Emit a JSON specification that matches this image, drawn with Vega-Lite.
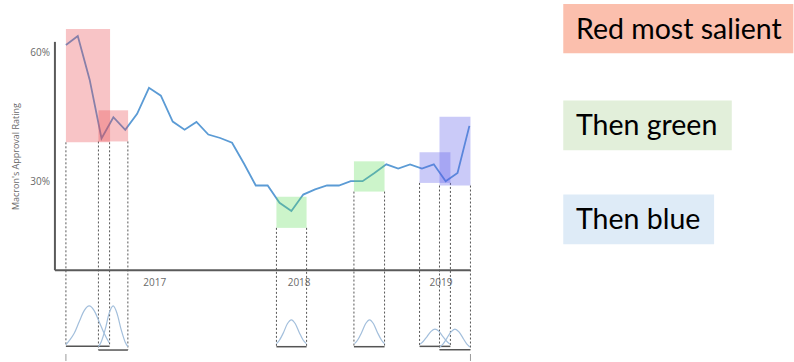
{
  "$schema": "https://vega.github.io/schema/vega-lite/v6.json",
  "width": 794,
  "height": 362,
  "autosize": {"type": "fit", "contains": "padding"},
  "padding": 0,
  "background": "white",
  "view": {"stroke": null},
  "datasets": {
    "rating": [
      {"t": 0, "v": 61.8}, {"t": 1, "v": 63.9}, {"t": 2, "v": 53.8}, {"t": 3, "v": 40.2},
      {"t": 4, "v": 45.1}, {"t": 5, "v": 42.2}, {"t": 6, "v": 45.9}, {"t": 7, "v": 51.9},
      {"t": 8, "v": 50.1}, {"t": 9, "v": 44.1}, {"t": 10, "v": 42.2}, {"t": 11, "v": 44.0},
      {"t": 12, "v": 41.1}, {"t": 13, "v": 40.3}, {"t": 14, "v": 39.2}, {"t": 15, "v": 34.4},
      {"t": 16, "v": 29.3}, {"t": 17, "v": 29.3}, {"t": 18, "v": 25.3}, {"t": 19, "v": 23.4},
      {"t": 20, "v": 27.2}, {"t": 21, "v": 28.4}, {"t": 22, "v": 29.3}, {"t": 23, "v": 29.3},
      {"t": 24, "v": 30.3}, {"t": 25, "v": 30.3}, {"t": 26, "v": 32.2}, {"t": 27, "v": 34.2},
      {"t": 28, "v": 33.2}, {"t": 29, "v": 34.2}, {"t": 30, "v": 33.2}, {"t": 31, "v": 34.2},
      {"t": 32, "v": 30.3}, {"t": 33, "v": 32.2}, {"t": 34, "v": 43.1}
    ],
    "boxes": [
      {"c": "red", "x1": 0, "x2": 3.72, "y1": 39.3, "y2": 65.5},
      {"c": "red", "x1": 2.74, "x2": 5.24, "y1": 39.5, "y2": 46.7},
      {"c": "green", "x1": 17.74, "x2": 20.28, "y1": 19.5, "y2": 26.7},
      {"c": "green", "x1": 24.27, "x2": 26.85, "y1": 27.9, "y2": 34.9},
      {"c": "blue", "x1": 29.8, "x2": 32.4, "y1": 29.9, "y2": 37.0},
      {"c": "blue", "x1": 31.48, "x2": 34.09, "y1": 29.3, "y2": 45.2}
    ],
    "drops": [
      {"x": 0, "y1": 39.3, "y2": -7.92}, {"x": 3.68, "y1": 39.3, "y2": -7.92},
      {"x": 2.74, "y1": 39.5, "y2": -8.77}, {"x": 5.22, "y1": 39.5, "y2": -8.77},
      {"x": 17.74, "y1": 19.5, "y2": -8.0}, {"x": 20.28, "y1": 19.5, "y2": -8.0},
      {"x": 24.27, "y1": 27.9, "y2": -8.0}, {"x": 26.85, "y1": 27.9, "y2": -8.0},
      {"x": 29.8, "y1": 29.9, "y2": -7.92}, {"x": 32.4, "y1": 29.9, "y2": -7.92},
      {"x": 31.48, "y1": 29.3, "y2": -8.7}, {"x": 34.09, "y1": 29.3, "y2": -8.7}
    ],
    "bases": [
      {"x1": 0, "x2": 3.68, "y": -7.92},
      {"x1": 2.74, "x2": 5.22, "y": -8.77},
      {"x1": 17.74, "x2": 20.28, "y": -8.0},
      {"x1": 24.27, "x2": 26.85, "y": -8.0},
      {"x1": 29.8, "x2": 32.4, "y": -7.92},
      {"x1": 31.48, "x2": 34.09, "y": -8.7}
    ],
    "curves": [
      {"g": "r1", "x": 0, "y": -7.5}, {"g": "r1", "x": 0.28, "y": -6.6}, {"g": "r1", "x": 0.7, "y": -4.9},
      {"g": "r1", "x": 1.12, "y": -2.2}, {"g": "r1", "x": 1.54, "y": 0.35}, {"g": "r1", "x": 1.96, "y": 1.45},
      {"g": "r1", "x": 2.38, "y": 0.35}, {"g": "r1", "x": 2.8, "y": -2.2}, {"g": "r1", "x": 3.22, "y": -4.9},
      {"g": "r1", "x": 3.64, "y": -7.1},
      {"g": "r2", "x": 2.74, "y": -8.0}, {"g": "r2", "x": 2.97, "y": -6.9}, {"g": "r2", "x": 3.31, "y": -4.0},
      {"g": "r2", "x": 3.64, "y": -0.3}, {"g": "r2", "x": 3.98, "y": 1.45}, {"g": "r2", "x": 4.31, "y": -0.3},
      {"g": "r2", "x": 4.65, "y": -4.0}, {"g": "r2", "x": 4.99, "y": -6.9}, {"g": "r2", "x": 5.22, "y": -8.0},
      {"g": "g1", "x": 17.74, "y": -7.3}, {"g": "g1", "x": 17.99, "y": -6.5}, {"g": "g1", "x": 18.33, "y": -4.75},
      {"g": "g1", "x": 18.66, "y": -2.7}, {"g": "g1", "x": 19.0, "y": -1.78}, {"g": "g1", "x": 19.33, "y": -2.7},
      {"g": "g1", "x": 19.67, "y": -4.75}, {"g": "g1", "x": 20.0, "y": -6.5}, {"g": "g1", "x": 20.26, "y": -7.3},
      {"g": "g2", "x": 24.32, "y": -7.3}, {"g": "g2", "x": 24.57, "y": -6.5}, {"g": "g2", "x": 24.91, "y": -4.75},
      {"g": "g2", "x": 25.25, "y": -2.7}, {"g": "g2", "x": 25.59, "y": -1.78}, {"g": "g2", "x": 25.92, "y": -2.7},
      {"g": "g2", "x": 26.26, "y": -4.75}, {"g": "g2", "x": 26.6, "y": -6.5}, {"g": "g2", "x": 26.85, "y": -7.3},
      {"g": "b1", "x": 29.84, "y": -7.4}, {"g": "b1", "x": 30.1, "y": -6.8}, {"g": "b1", "x": 30.43, "y": -5.65},
      {"g": "b1", "x": 30.77, "y": -4.45}, {"g": "b1", "x": 31.1, "y": -3.92}, {"g": "b1", "x": 31.44, "y": -4.45},
      {"g": "b1", "x": 31.77, "y": -5.65}, {"g": "b1", "x": 32.11, "y": -6.8}, {"g": "b1", "x": 32.37, "y": -7.4},
      {"g": "b2", "x": 31.52, "y": -8.05}, {"g": "b2", "x": 31.77, "y": -7.4}, {"g": "b2", "x": 32.11, "y": -6.0},
      {"g": "b2", "x": 32.45, "y": -4.57}, {"g": "b2", "x": 32.78, "y": -3.92}, {"g": "b2", "x": 33.12, "y": -4.57},
      {"g": "b2", "x": 33.46, "y": -6.0}, {"g": "b2", "x": 33.79, "y": -7.4}, {"g": "b2", "x": 34.04, "y": -8.05}
    ],
    "axes": [
      {"x1": -0.926, "x2": -0.926, "y1": 9.69, "y2": 62.54},
      {"x1": -0.926, "x2": 34.1, "y1": 9.69, "y2": 9.69}
    ],
    "ticks": [
      {"x": 0, "y1": -9.69, "y2": -11.3},
      {"x": 34.09, "y1": -9.69, "y2": -11.3}
    ],
    "ylabels": [
      {"x": -1.35, "y": 60, "text": "60%"},
      {"x": -1.35, "y": 30, "text": "30%"}
    ],
    "xlabels": [
      {"x": 7.49, "y": 6.69, "text": "2017"},
      {"x": 19.65, "y": 6.69, "text": "2018"},
      {"x": 31.6, "y": 6.69, "text": "2019"}
    ],
    "ytitle": [
      {"x": -4.21, "y": 36.0, "text": "Macron's Approval Rating"}
    ],
    "notes": [
      {"k": "red", "x1": 41.91, "x2": 61.3, "y1": 59.93, "y2": 71.31, "tx": 42.98, "ty": 65.4, "text": "Red most salient"},
      {"k": "green", "x1": 41.91, "x2": 56.11, "y1": 37.46, "y2": 49.0, "tx": 42.98, "ty": 43.0, "text": "Then green"},
      {"k": "blue", "x1": 41.91, "x2": 54.62, "y1": 15.69, "y2": 27.23, "tx": 42.98, "ty": 21.25, "text": "Then blue"}
    ]
  },
  "layer": [
    {
      "data": {"name": "notes"},
      "mark": {"type": "rect"},
      "encoding": {
        "x": {"field": "x1", "type": "quantitative", "scale": {"domain": [-5.5546, 61.269], "nice": false, "zero": false}, "axis": null},
        "x2": {"field": "x2"},
        "y": {"field": "y1", "type": "quantitative", "scale": {"domain": [-11.3077, 72.2308], "nice": false, "zero": false}, "axis": null},
        "y2": {"field": "y2"},
        "fill": {"field": "k", "type": "nominal", "scale": {"domain": ["red", "green", "blue"], "range": ["#fbbfad", "#e2efda", "#deebf7"]}, "legend": null}
      }
    },
    {
      "data": {"name": "notes"},
      "mark": {"type": "text", "align": "left", "baseline": "middle", "font": "Lato", "fontSize": 28.5, "color": "#000000"},
      "encoding": {
        "x": {"field": "tx", "type": "quantitative", "scale": {"domain": [-5.5546, 61.269], "nice": false, "zero": false}, "axis": null},
        "y": {"field": "ty", "type": "quantitative", "scale": {"domain": [-11.3077, 72.2308], "nice": false, "zero": false}, "axis": null},
        "text": {"field": "text"}
      }
    },
    {
      "data": {"name": "drops"},
      "mark": {"type": "rule", "color": "#444444", "strokeWidth": 0.9, "strokeDash": [2, 2]},
      "encoding": {
        "x": {"field": "x", "type": "quantitative", "scale": {"domain": [-5.5546, 61.269], "nice": false, "zero": false}, "axis": null},
        "y": {"field": "y1", "type": "quantitative", "scale": {"domain": [-11.3077, 72.2308], "nice": false, "zero": false}, "axis": null},
        "y2": {"field": "y2"}
      }
    },
    {
      "data": {"name": "bases"},
      "mark": {"type": "rule", "color": "#555555", "strokeWidth": 1.5},
      "encoding": {
        "x": {"field": "x1", "type": "quantitative", "scale": {"domain": [-5.5546, 61.269], "nice": false, "zero": false}, "axis": null},
        "x2": {"field": "x2"},
        "y": {"field": "y", "type": "quantitative", "scale": {"domain": [-11.3077, 72.2308], "nice": false, "zero": false}, "axis": null}
      }
    },
    {
      "data": {"name": "curves"},
      "mark": {"type": "line", "color": "#a3bfdc", "strokeWidth": 1.2, "interpolate": "monotone"},
      "encoding": {
        "x": {"field": "x", "type": "quantitative", "scale": {"domain": [-5.5546, 61.269], "nice": false, "zero": false}, "axis": null},
        "y": {"field": "y", "type": "quantitative", "scale": {"domain": [-11.3077, 72.2308], "nice": false, "zero": false}, "axis": null},
        "detail": {"field": "g", "type": "nominal"}
      }
    },
    {
      "data": {"name": "rating"},
      "mark": {"type": "line", "color": "#5b9bd5", "strokeWidth": 1.8},
      "encoding": {
        "x": {"field": "t", "type": "quantitative", "scale": {"domain": [-5.5546, 61.269], "nice": false, "zero": false}, "axis": null},
        "y": {"field": "v", "type": "quantitative", "scale": {"domain": [-11.3077, 72.2308], "nice": false, "zero": false}, "axis": null}
      }
    },
    {
      "data": {"name": "boxes"},
      "mark": {"type": "rect", "opacity": 0.32},
      "encoding": {
        "x": {"field": "x1", "type": "quantitative", "scale": {"domain": [-5.5546, 61.269], "nice": false, "zero": false}, "axis": null},
        "x2": {"field": "x2"},
        "y": {"field": "y1", "type": "quantitative", "scale": {"domain": [-11.3077, 72.2308], "nice": false, "zero": false}, "axis": null},
        "y2": {"field": "y2"},
        "color": {"field": "c", "type": "nominal", "scale": {"domain": ["red", "green", "blue"], "range": ["#e8474f", "#5fdc5a", "#5a5aea"]}, "legend": null}
      }
    },
    {
      "data": {"name": "axes"},
      "mark": {"type": "rule", "color": "#5a5a5a", "strokeWidth": 2},
      "encoding": {
        "x": {"field": "x1", "type": "quantitative", "scale": {"domain": [-5.5546, 61.269], "nice": false, "zero": false}, "axis": null},
        "x2": {"field": "x2"},
        "y": {"field": "y1", "type": "quantitative", "scale": {"domain": [-11.3077, 72.2308], "nice": false, "zero": false}, "axis": null},
        "y2": {"field": "y2"}
      }
    },
    {
      "data": {"name": "ticks"},
      "mark": {"type": "rule", "color": "#9a9a9a", "strokeWidth": 1},
      "encoding": {
        "x": {"field": "x", "type": "quantitative", "scale": {"domain": [-5.5546, 61.269], "nice": false, "zero": false}, "axis": null},
        "y": {"field": "y1", "type": "quantitative", "scale": {"domain": [-11.3077, 72.2308], "nice": false, "zero": false}, "axis": null},
        "y2": {"field": "y2"}
      }
    },
    {
      "data": {"name": "ylabels"},
      "mark": {"type": "text", "align": "right", "baseline": "middle", "font": "Open Sans", "fontSize": 10, "color": "#6a6a6a"},
      "encoding": {
        "x": {"field": "x", "type": "quantitative", "scale": {"domain": [-5.5546, 61.269], "nice": false, "zero": false}, "axis": null},
        "y": {"field": "y", "type": "quantitative", "scale": {"domain": [-11.3077, 72.2308], "nice": false, "zero": false}, "axis": null},
        "text": {"field": "text"}
      }
    },
    {
      "data": {"name": "xlabels"},
      "mark": {"type": "text", "align": "center", "baseline": "middle", "font": "Open Sans", "fontSize": 10, "color": "#6a6a6a"},
      "encoding": {
        "x": {"field": "x", "type": "quantitative", "scale": {"domain": [-5.5546, 61.269], "nice": false, "zero": false}, "axis": null},
        "y": {"field": "y", "type": "quantitative", "scale": {"domain": [-11.3077, 72.2308], "nice": false, "zero": false}, "axis": null},
        "text": {"field": "text"}
      }
    },
    {
      "data": {"name": "ytitle"},
      "mark": {"type": "text", "align": "center", "baseline": "middle", "angle": 270, "font": "Open Sans", "fontSize": 9, "color": "#6a6a6a"},
      "encoding": {
        "x": {"field": "x", "type": "quantitative", "scale": {"domain": [-5.5546, 61.269], "nice": false, "zero": false}, "axis": null},
        "y": {"field": "y", "type": "quantitative", "scale": {"domain": [-11.3077, 72.2308], "nice": false, "zero": false}, "axis": null},
        "text": {"field": "text"}
      }
    }
  ]
}
